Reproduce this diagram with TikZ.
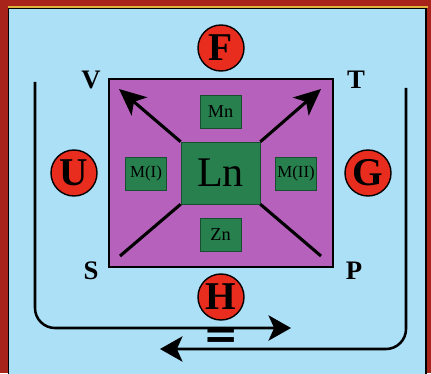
\documentclass[tikz,border=0pt]{standalone}
\usepackage{fontspec}
\setmainfont{Liberation Serif}
\newfontfamily\signfont{DejaVu Sans}
\usepackage{tikz}
\usetikzlibrary{arrows.meta,positioning}

\definecolor{skyback}{RGB}{172,224,246}
\definecolor{framered}{RGB}{168,36,26}
\definecolor{framegold}{RGB}{222,176,60}
\definecolor{purplebox}{RGB}{182,98,188}
\definecolor{greenbox}{RGB}{40,128,78}
\definecolor{redball}{RGB}{232,44,30}

\tikzset{
  metalbox/.style={fill=greenbox, draw=greenbox!60!black, thin, inner sep=0pt,
    minimum width=1.03cm, minimum height=0.83cm, font=\fontsize{13}{13}\selectfont},
  letterball/.style={circle, fill=redball, draw=black, line width=1pt, inner sep=0pt,
    minimum size=1.15cm, font=\fontsize{28}{28}\selectfont\bfseries},
  cornerlabel/.style={font=\fontsize{19}{19}\selectfont\bfseries, inner sep=0pt},
  bigarrow/.style={line width=2.2pt, -{Stealth[length=19pt,width=17pt,inset=5pt]}},
  bigline/.style={line width=2.2pt},
  turnline/.style={line width=1.8pt, rounded corners=0.5cm},
  turnarrow/.style={turnline, -{Stealth[length=16pt,width=18pt,inset=4pt]}},
}

\begin{document}
\begin{tikzpicture}[x=0.025cm, y=-0.025cm]
      \useasboundingbox (0,0) rectangle (431,373);
      \clip (0,0) rectangle (431,373);

      % Red frame with the light blue panel inside
      \fill[framered] (0,0) rectangle (431,373);
      \fill[skyback] (9,9) rectangle (426,380);
      \draw[framegold, line width=0.8pt] (7.5,7) -- (427.5,7);
      \draw[black, line width=1.2pt] (8.5,380) -- (8.5,8.5) -- (426,8.5) -- (426,380);

      % Purple square
      \draw[fill=purplebox, line width=2pt] (109,79) rectangle (333,267);

      % Green boxes
      \node[metalbox, minimum width=1.98cm, minimum height=1.55cm,
        font=\fontsize{30}{30}\selectfont] (ln) at (220.5,173) {Ln};
      \node[metalbox] (mn) at (220.5,111.5) {Mn};
      \node[metalbox] (zn) at (220.5,235) {Zn};
      \node[metalbox, font=\fontsize{12}{12}\selectfont] (mone) at (146,173.5) {M(I)};
      \node[metalbox, font=\fontsize{12}{12}\selectfont] (mtwo) at (296,173.5) {M(II)};

      % Arrows and lines from the corners of Ln
      \coordinate (vtip) at (119,89);
      \coordinate (ttip) at (321,89);
      \coordinate (send) at (120,256);
      \coordinate (pend) at (321,256);
      \draw[bigarrow] (ln.north west) -- (vtip);
      \draw[bigarrow] (ln.north east) -- (ttip);
      \draw[bigline] (ln.south west) -- (send);
      \draw[bigline] (ln.south east) -- (pend);

      % Red balls
      \node[letterball] (f) at (221,48) {F};
      \node[letterball] (u) at (74,173) {U};
      \node[letterball] (g) at (368,173) {G};
      \node[letterball] (h) at (221,297) {H};

      % Corner letters
      \node[cornerlabel] (v) at (91,80) {V};
      \node[cornerlabel] (t) at (356,80) {T};
      \node[cornerlabel] (s) at (91,271) {S};
      \node[cornerlabel] (p) at (354,271) {P};

      % Turning arrows at the bottom
      \coordinate (lefttop) at (35,82);
      \coordinate (leftbend) at (35,328);
      \coordinate (lefttip) at (291,328);
      \coordinate (righttop) at (406,88);
      \coordinate (rightbend) at (406,349);
      \coordinate (righttip) at (160,349);
      \draw[turnarrow] (lefttop) -- (leftbend) -- (lefttip);
      \draw[turnarrow] (righttop) -- (rightbend) -- (righttip);

      % Equilibrium sign
      \node[font=\fontsize{30}{30}\signfont\bfseries, inner sep=0pt, anchor=base] (eq) at (221,348) {=};
    \end{tikzpicture}
\end{document}
